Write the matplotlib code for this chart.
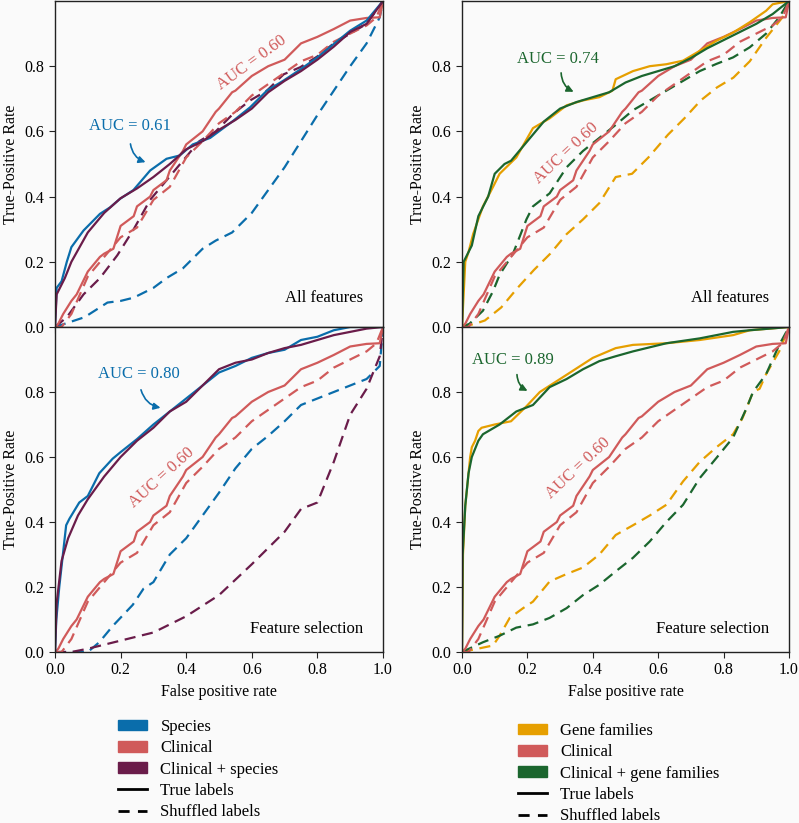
import numpy as np
import matplotlib
matplotlib.use('Agg')
import matplotlib.pyplot as plt
from matplotlib.patches import Patch
from matplotlib.lines import Line2D

plt.rcParams['font.family'] = ['Liberation Serif', 'DejaVu Serif']
plt.rcParams['font.size'] = 11

BG = '#fafafa'
c_species = '#0a6dab'
c_clin = '#d05a5a'
c_clinsp = '#6a1c4a'
c_gene = '#e69f00'
c_clingene = '#1b662e'

# ROC curves: (fpr, tpr)
clin_fpr = [0, 0.01, 0.025, 0.05, 0.066, 0.1, 0.137, 0.15, 0.178, 0.2, 0.24, 0.25, 0.29, 0.3, 0.34, 0.35,
            0.39, 0.4, 0.45, 0.49, 0.5, 0.54, 0.55, 0.6, 0.65, 0.7, 0.75, 0.8, 0.85, 0.9, 0.95, 0.99, 1.0]
clin_tpr = [0, 0.01, 0.04, 0.08, 0.10, 0.17, 0.215, 0.225, 0.24, 0.31, 0.34, 0.37, 0.40, 0.42, 0.45, 0.48,
            0.54, 0.56, 0.60, 0.66, 0.67, 0.72, 0.725, 0.77, 0.80, 0.82, 0.87, 0.89, 0.914, 0.94, 0.948, 0.95, 1.0]
clin_sh_fpr = [0, 0.02, 0.05, 0.1, 0.15, 0.2, 0.25, 0.3, 0.35, 0.4, 0.45, 0.5, 0.55, 0.6, 0.65, 0.7,
               0.75, 0.8, 0.85, 0.9, 0.95, 0.98, 1.0]
clin_sh_tpr = [0, 0.0, 0.04, 0.155, 0.215, 0.275, 0.305, 0.39, 0.43, 0.52, 0.57, 0.625, 0.66, 0.71, 0.745, 0.78,
               0.815, 0.835, 0.875, 0.90, 0.925, 0.95, 1.0]

# all features, species
sp_fpr = [0, 0.005, 0.02, 0.036, 0.05, 0.087, 0.137, 0.168, 0.198, 0.239, 0.29, 0.34, 0.38, 0.42, 0.473,
          0.544, 0.595, 0.646, 0.697, 0.748, 0.80, 0.85, 0.90, 0.95, 1.0]
sp_tpr = [0, 0.12, 0.14, 0.20, 0.245, 0.296, 0.347, 0.367, 0.393, 0.42, 0.48, 0.516, 0.526, 0.56, 0.58,
          0.633, 0.674, 0.725, 0.756, 0.79, 0.827, 0.868, 0.909, 0.94, 1.0]
csp_fpr = [0, 0.005, 0.03, 0.05, 0.1, 0.15, 0.2, 0.25, 0.3, 0.35, 0.4, 0.45, 0.5, 0.55, 0.6, 0.65, 0.7,
           0.75, 0.8, 0.85, 0.9, 0.95, 1.0]
csp_tpr = [0, 0.10, 0.15, 0.20, 0.29, 0.35, 0.395, 0.425, 0.46, 0.50, 0.545, 0.57, 0.605, 0.635, 0.67, 0.72,
           0.755, 0.785, 0.82, 0.86, 0.905, 0.93, 1.0]
sp_sh_fpr = [0, 0.03, 0.09, 0.16, 0.2, 0.24, 0.3, 0.34, 0.39, 0.45, 0.49, 0.54, 0.6, 0.65, 0.7, 0.75,
             0.8, 0.85, 0.9, 0.95, 0.99, 1.0]
sp_sh_tpr = [0, 0.01, 0.03, 0.075, 0.08, 0.09, 0.12, 0.15, 0.18, 0.24, 0.265, 0.29, 0.35, 0.42, 0.49, 0.57,
             0.65, 0.725, 0.80, 0.87, 0.95, 1.0]
csp_sh_fpr = [0, 0.036, 0.087, 0.137, 0.19, 0.24, 0.29, 0.34, 0.39, 0.44, 0.49, 0.544, 0.595, 0.646, 0.697,
              0.748, 0.80, 0.85, 0.90, 0.95, 1.0]
csp_sh_tpr = [0, 0.03, 0.10, 0.15, 0.22, 0.30, 0.39, 0.45, 0.51, 0.57, 0.60, 0.655, 0.695, 0.725, 0.775,
              0.797, 0.83, 0.87, 0.90, 0.93, 1.0]

# feature selection, species
sps_fpr = [0, 0.004, 0.013, 0.034, 0.044, 0.074, 0.1, 0.135, 0.176, 0.2, 0.25, 0.3, 0.35, 0.4, 0.45, 0.5,
           0.55, 0.6, 0.65, 0.7, 0.75, 0.8, 0.85, 0.9, 1.0]
sps_tpr = [0, 0.10, 0.20, 0.39, 0.41, 0.46, 0.48, 0.55, 0.595, 0.615, 0.655, 0.70, 0.74, 0.78, 0.82, 0.86,
           0.88, 0.905, 0.92, 0.93, 0.96, 0.97, 0.99, 1.0, 1.0]
csps_fpr = [0, 0.005, 0.02, 0.04, 0.07, 0.1, 0.15, 0.2, 0.25, 0.3, 0.35, 0.4, 0.45, 0.5, 0.55, 0.6, 0.65,
            0.7, 0.75, 0.8, 0.85, 0.9, 0.95, 1.0]
csps_tpr = [0, 0.15, 0.28, 0.35, 0.42, 0.47, 0.54, 0.60, 0.65, 0.69, 0.74, 0.77, 0.82, 0.87, 0.89, 0.90, 0.92,
            0.935, 0.945, 0.96, 0.975, 0.985, 0.995, 1.0]
sps_sh_fpr = [0, 0.1, 0.135, 0.176, 0.237, 0.27, 0.3, 0.35, 0.4, 0.45, 0.5, 0.55, 0.6, 0.65, 0.7, 0.75,
              0.8, 0.85, 0.9, 0.95, 0.99, 1.0]
sps_sh_tpr = [0, 0.0, 0.03, 0.08, 0.145, 0.195, 0.215, 0.30, 0.35, 0.42, 0.49, 0.565, 0.625, 0.665, 0.71, 0.76,
              0.78, 0.80, 0.82, 0.84, 0.88, 1.0]
csps_sh_fpr = [0, 0.05, 0.1, 0.2, 0.3, 0.4, 0.5, 0.6, 0.7, 0.75, 0.8, 0.85, 0.9, 0.95, 0.99, 1.0]
csps_sh_tpr = [0, 0.0, 0.01, 0.035, 0.06, 0.11, 0.175, 0.27, 0.37, 0.44, 0.46, 0.585, 0.73, 0.81, 0.91, 1.0]

# all features, gene families
gf_fpr = [0, 0.005, 0.01, 0.02, 0.034, 0.064, 0.095, 0.115, 0.166, 0.217, 0.268, 0.32, 0.37, 0.42, 0.46,
          0.47, 0.523, 0.574, 0.625, 0.676, 0.727, 0.778, 0.829, 0.88, 0.93, 0.95, 1.0]
gf_tpr = [0, 0.10, 0.20, 0.23, 0.285, 0.37, 0.43, 0.47, 0.52, 0.61, 0.64, 0.68, 0.695, 0.705, 0.725,
          0.76, 0.785, 0.80, 0.806, 0.817, 0.847, 0.878, 0.903, 0.935, 0.97, 0.99, 1.0]
cgf_fpr = [0, 0.005, 0.03, 0.05, 0.08, 0.1, 0.13, 0.15, 0.2, 0.25, 0.3, 0.35, 0.4, 0.45, 0.5, 0.55, 0.6,
           0.65, 0.7, 0.75, 0.8, 0.85, 0.9, 0.95, 1.0]
cgf_tpr = [0, 0.20, 0.25, 0.34, 0.40, 0.47, 0.50, 0.51, 0.57, 0.63, 0.67, 0.69, 0.705, 0.72, 0.75, 0.77,
           0.785, 0.80, 0.825, 0.855, 0.88, 0.905, 0.93, 0.96, 1.0]
gf_sh_fpr = [0, 0.04, 0.07, 0.12, 0.17, 0.22, 0.27, 0.32, 0.37, 0.42, 0.47, 0.52, 0.57, 0.63, 0.68, 0.73,
             0.78, 0.83, 0.88, 0.93, 0.98, 1.0]
gf_sh_tpr = [0, 0.01, 0.02, 0.06, 0.12, 0.175, 0.225, 0.285, 0.33, 0.38, 0.46, 0.47, 0.52, 0.59, 0.64, 0.695,
             0.735, 0.765, 0.815, 0.887, 0.95, 1.0]
cgf_sh_fpr = [0, 0.023, 0.064, 0.095, 0.115, 0.156, 0.197, 0.217, 0.268, 0.32, 0.37, 0.42, 0.47, 0.523,
              0.574, 0.625, 0.676, 0.727, 0.778, 0.829, 0.88, 0.93, 0.97, 1.0]
cgf_sh_tpr = [0, 0.01, 0.05, 0.11, 0.16, 0.225, 0.33, 0.37, 0.41, 0.49, 0.54, 0.58, 0.62, 0.665, 0.695,
              0.725, 0.755, 0.785, 0.807, 0.827, 0.858, 0.90, 0.95, 1.0]

# feature selection, gene families
gfs_fpr = [0, 0.003, 0.01, 0.02, 0.025, 0.03, 0.04, 0.05, 0.06, 0.1, 0.15, 0.197, 0.238, 0.32, 0.40, 0.47,
           0.523, 0.625, 0.727, 0.829, 0.88, 1.0]
gfs_tpr = [0, 0.30, 0.45, 0.55, 0.60, 0.63, 0.65, 0.68, 0.69, 0.70, 0.71, 0.756, 0.80, 0.853, 0.905, 0.935,
           0.945, 0.95, 0.96, 0.975, 0.99, 1.0]
cgfs_fpr = [0, 0.002, 0.01, 0.02, 0.03, 0.05, 0.064, 0.115, 0.166, 0.217, 0.268, 0.32, 0.37, 0.42, 0.47,
            0.523, 0.625, 0.727, 0.829, 0.88, 1.0]
cgfs_tpr = [0, 0.30, 0.45, 0.55, 0.60, 0.65, 0.67, 0.70, 0.74, 0.76, 0.815, 0.84, 0.87, 0.895, 0.91,
            0.925, 0.95, 0.965, 0.985, 0.99, 1.0]
gfs_sh_fpr = [0, 0.095, 0.115, 0.146, 0.187, 0.217, 0.268, 0.32, 0.37, 0.42, 0.47, 0.523, 0.574, 0.625,
              0.676, 0.727, 0.778, 0.829, 0.858, 0.89, 0.91, 0.93, 0.97, 1.0]
gfs_sh_tpr = [0, 0.02, 0.05, 0.105, 0.135, 0.155, 0.217, 0.24, 0.26, 0.30, 0.36, 0.39, 0.42, 0.453,
              0.525, 0.585, 0.63, 0.67, 0.72, 0.80, 0.81, 0.855, 0.925, 1.0]
cgfs_sh_fpr = [0, 0.064, 0.115, 0.166, 0.217, 0.268, 0.32, 0.37, 0.42, 0.47, 0.523, 0.574, 0.625, 0.676,
               0.727, 0.778, 0.829, 0.87, 0.89, 0.93, 0.97, 1.0]
cgfs_sh_tpr = [0, 0.03, 0.05, 0.075, 0.085, 0.105, 0.135, 0.175, 0.207, 0.248, 0.29, 0.34, 0.40, 0.453,
               0.535, 0.597, 0.66, 0.75, 0.80, 0.855, 0.945, 1.0]

fig = plt.figure(figsize=(7.99, 8.23), dpi=100, facecolor=BG)
W, H = 799., 823.

def make_ax(x0, x1, y0, y1):
    ax = fig.add_axes([x0 / W, 1 - y1 / H, (x1 - x0) / W, (y1 - y0) / H])
    ax.set_facecolor(BG)
    ax.set_xlim(0, 1)
    ax.set_ylim(0, 1)
    ax.set_yticks([0, 0.2, 0.4, 0.6, 0.8])
    ax.set_xticks([0, 0.2, 0.4, 0.6, 0.8, 1.0])
    ax.tick_params(labelsize=11.5, length=4, color='#222222')
    ax.set_ylabel('True-Positive Rate', fontsize=11.5)
    for s in ax.spines.values():
        s.set_color('#222222')
        s.set_linewidth(1.0)
    return ax

ax_tl = make_ax(55, 383, 1, 327)
ax_bl = make_ax(55, 383, 327, 652)
ax_tr = make_ax(462, 789, 1, 327)
ax_br = make_ax(462, 789, 327, 652)
for ax in (ax_tl, ax_tr):
    ax.tick_params(labelbottom=False)
for ax in (ax_bl, ax_br):
    ax.set_xlabel('False positive rate', fontsize=11.5)

lw = 1.6

def draw(ax, curves):
    for fpr, tpr, col, ls in curves:
        ax.plot(fpr, tpr, color=col, linestyle=ls, lw=lw,
                dashes=(5, 3) if ls == '--' else (None, None))

draw(ax_tl, [(sp_sh_fpr, sp_sh_tpr, c_species, '--'),
             (csp_sh_fpr, csp_sh_tpr, c_clinsp, '--'),
             (clin_sh_fpr, clin_sh_tpr, c_clin, '--'),
             (clin_fpr, clin_tpr, c_clin, '-'),
             (sp_fpr, sp_tpr, c_species, '-'),
             (csp_fpr, csp_tpr, c_clinsp, '-')])
draw(ax_bl, [(sps_sh_fpr, sps_sh_tpr, c_species, '--'),
             (csps_sh_fpr, csps_sh_tpr, c_clinsp, '--'),
             (clin_sh_fpr, clin_sh_tpr, c_clin, '--'),
             (clin_fpr, clin_tpr, c_clin, '-'),
             (sps_fpr, sps_tpr, c_species, '-'),
             (csps_fpr, csps_tpr, c_clinsp, '-')])
draw(ax_tr, [(gf_sh_fpr, gf_sh_tpr, c_gene, '--'),
             (cgf_sh_fpr, cgf_sh_tpr, c_clingene, '--'),
             (clin_sh_fpr, clin_sh_tpr, c_clin, '--'),
             (clin_fpr, clin_tpr, c_clin, '-'),
             (gf_fpr, gf_tpr, c_gene, '-'),
             (cgf_fpr, cgf_tpr, c_clingene, '-')])
draw(ax_br, [(gfs_sh_fpr, gfs_sh_tpr, c_gene, '--'),
             (cgfs_sh_fpr, cgfs_sh_tpr, c_clingene, '--'),
             (clin_sh_fpr, clin_sh_tpr, c_clin, '--'),
             (clin_fpr, clin_tpr, c_clin, '-'),
             (gfs_fpr, gfs_tpr, c_gene, '-'),
             (cgfs_fpr, cgfs_tpr, c_clingene, '-')])

# annotations
def auc_arrow(ax, text, col, txt_xy, start, end, rad=0.35):
    ax.text(txt_xy[0], txt_xy[1], text, color=col, fontsize=12, ha='center', va='center')
    ax.annotate('', xy=end, xytext=start,
                arrowprops=dict(arrowstyle='-|>', color=col, lw=1.2,
                                connectionstyle='arc3,rad=%s' % rad, mutation_scale=10))

auc_arrow(ax_tl, 'AUC = 0.61', c_species, (0.229, 0.617), (0.229, 0.57), (0.284, 0.503))
auc_arrow(ax_bl, 'AUC = 0.80', c_species, (0.256, 0.855), (0.26, 0.815), (0.33, 0.75))
auc_arrow(ax_tr, 'AUC = 0.74', c_clingene, (0.294, 0.822), (0.303, 0.788), (0.349, 0.718))
auc_arrow(ax_br, 'AUC = 0.89', c_clingene, (0.156, 0.90), (0.168, 0.862), (0.208, 0.80))

ax_tl.text(0.60, 0.81, 'AUC = 0.60', color=c_clin, fontsize=12, rotation=36, ha='center', va='center')
ax_bl.text(0.326, 0.535, 'AUC = 0.60', color=c_clin, fontsize=12, rotation=42, ha='center', va='center')
ax_tr.text(0.32, 0.534, 'AUC = 0.60', color=c_clin, fontsize=12, rotation=43, ha='center', va='center')
ax_br.text(0.355, 0.566, 'AUC = 0.60', color=c_clin, fontsize=12, rotation=43, ha='center', va='center')

for ax in (ax_tl, ax_tr):
    ax.text(0.94, 0.09, 'All features', fontsize=12, ha='right', va='center')
for ax in (ax_bl, ax_br):
    ax.text(0.94, 0.07, 'Feature selection', fontsize=12, ha='right', va='center')

# legends
left_handles = [Patch(color=c_species, label='Species'),
                Patch(color=c_clin, label='Clinical'),
                Patch(color=c_clinsp, label='Clinical + species'),
                Line2D([], [], color='black', lw=2, label='True labels'),
                Line2D([], [], color='black', lw=2, dashes=(4, 3), label='Shuffled labels')]
right_handles = [Patch(color=c_gene, label='Gene families'),
                 Patch(color=c_clin, label='Clinical'),
                 Patch(color=c_clingene, label='Clinical + gene families'),
                 Line2D([], [], color='black', lw=2, label='True labels'),
                 Line2D([], [], color='black', lw=2, dashes=(4, 3), label='Shuffled labels')]

leg_kw = dict(frameon=False, fontsize=12, handlelength=1.75, handleheight=0.6,
              labelspacing=0.32, handletextpad=0.8, borderpad=0, borderaxespad=0,
              loc='upper left')
fig.legend(handles=left_handles, bbox_to_anchor=(118 / W, 1 - 719 / H), **leg_kw)
fig.legend(handles=right_handles, bbox_to_anchor=(518 / W, 1 - 723 / H), **leg_kw)

fig.savefig('out.png', dpi=100, facecolor=BG)
